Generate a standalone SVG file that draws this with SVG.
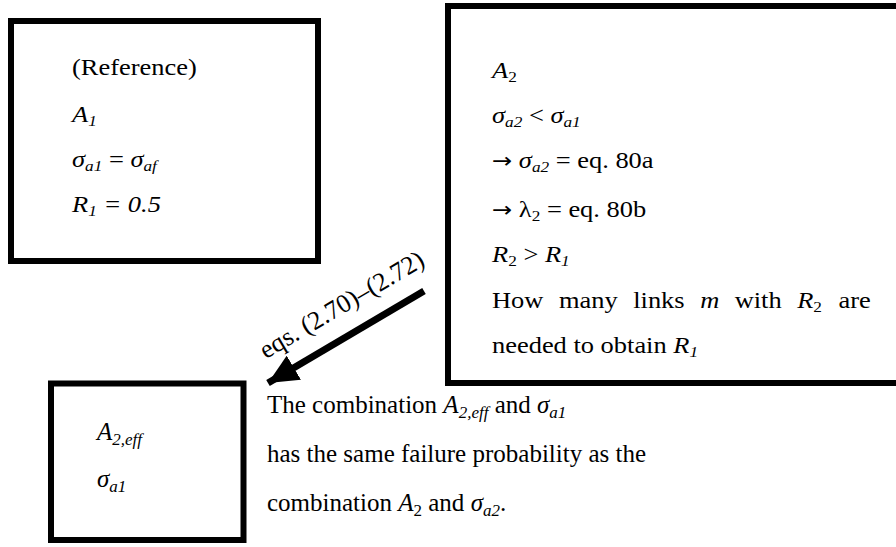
<svg xmlns="http://www.w3.org/2000/svg" width="896" height="547" viewBox="0 0 896 547">
<style>
text{font-family:"Liberation Serif","Times New Roman",serif;fill:#000;}
.t{font-size:23px;}
.b{font-size:25px;}
.i{font-style:italic;}
.s{font-size:15px;}
.bs{font-size:17px;}
.ar{font-family:"DejaVu Sans",sans-serif;font-size:21px;}
.box{fill:#fff;stroke:#000;stroke-width:6;}
</style>
<defs>
<marker id="ah" markerUnits="userSpaceOnUse" markerWidth="32" markerHeight="28" refX="30" refY="14" orient="auto">
<path d="M0,0 L30,14 L0,28 Z" fill="#000"/>
</marker>
</defs>
<g id="node-ref">
<rect class="box" x="11" y="21" width="307" height="240"/>
<g transform="translate(72 0) scale(1.15 1)">
<text class="t" x="0" y="75">(Reference)</text>
<text class="t i" x="0" y="122">A<tspan class="s" dy="4">1</tspan></text>
<text class="t" x="0" y="167"><tspan class="i">σ</tspan><tspan class="s i" dy="4">a1</tspan><tspan dy="-4"> = </tspan><tspan class="i">σ</tspan><tspan class="s i" dy="4">af</tspan></text>
<text class="t i" x="0" y="212">R<tspan class="s" dy="4">1</tspan><tspan dy="-4"> = 0.5</tspan></text>
</g>
</g>
<g id="node-a2">
<rect class="box" x="448" y="6" width="460" height="377"/>
<g transform="translate(492 0) scale(1.15 1)">
<text class="t" x="0" y="78"><tspan class="i">A</tspan><tspan class="s" dy="4">2</tspan></text>
<text class="t" x="0" y="123"><tspan class="i">σ</tspan><tspan class="s i" dy="4">a2</tspan><tspan dy="-4"> &lt; </tspan><tspan class="i">σ</tspan><tspan class="s i" dy="4">a1</tspan></text>
<text class="t" x="0" y="168"><tspan class="ar">→</tspan> <tspan class="i">σ</tspan><tspan class="s i" dy="4">a2</tspan><tspan dy="-4"> = eq. 80a</tspan></text>
<text class="t" x="0" y="217"><tspan class="ar">→</tspan> λ<tspan class="s" dy="4">2</tspan><tspan dy="-4"> = eq. 80b</tspan></text>
<text class="t" x="0" y="262"><tspan class="i">R</tspan><tspan class="s" dy="4">2</tspan><tspan dy="-4"> &gt; </tspan><tspan class="i">R</tspan><tspan class="s i" dy="4">1</tspan></text>
<text class="t" y="308"><tspan x="0">How</tspan><tspan x="58.2">many</tspan><tspan x="122.8">links</tspan><tspan x="181" class="i">m</tspan><tspan x="211">with</tspan><tspan x="265.4" class="i">R</tspan><tspan class="s" dy="4">2</tspan><tspan x="301.3" dy="-4">are</tspan></text>
<text class="t" x="0" y="353">needed to obtain <tspan class="i">R</tspan><tspan class="s i" dy="4">1</tspan></text>
</g>
</g>
<g id="node-eff">
<rect class="box" x="51" y="383.5" width="192.5" height="156.5"/>
<text class="b" x="97" y="440"><tspan class="i">A</tspan><tspan class="bs i" dy="5">2,eff</tspan></text>
<text class="b" x="97" y="487"><tspan class="i">σ</tspan><tspan class="bs i" dy="5">a1</tspan></text>
</g>
<g id="connectors">
<line x1="424" y1="291" x2="268" y2="383" stroke="#000" stroke-width="7" marker-end="url(#ah)"/>
<text x="346" y="312" font-size="26" text-anchor="middle" transform="rotate(-30.5 346 312)">eqs. (2.70)–(2.72)</text>
</g>
<g id="caption">
<text class="b" x="267" y="413">The combination <tspan class="i">A</tspan><tspan class="bs i" dy="5">2,eff</tspan><tspan dy="-5"> and </tspan><tspan class="i">σ</tspan><tspan class="bs i" dy="5">a1</tspan></text>
<text class="b" x="267" y="462">has the same failure probability as the</text>
<text class="b" x="267" y="511">combination <tspan class="i">A</tspan><tspan class="bs" dy="5">2</tspan><tspan dy="-5"> and </tspan><tspan class="i">σ</tspan><tspan class="bs i" dy="5">a2</tspan><tspan dy="-5">.</tspan></text>
</g>
</svg>
